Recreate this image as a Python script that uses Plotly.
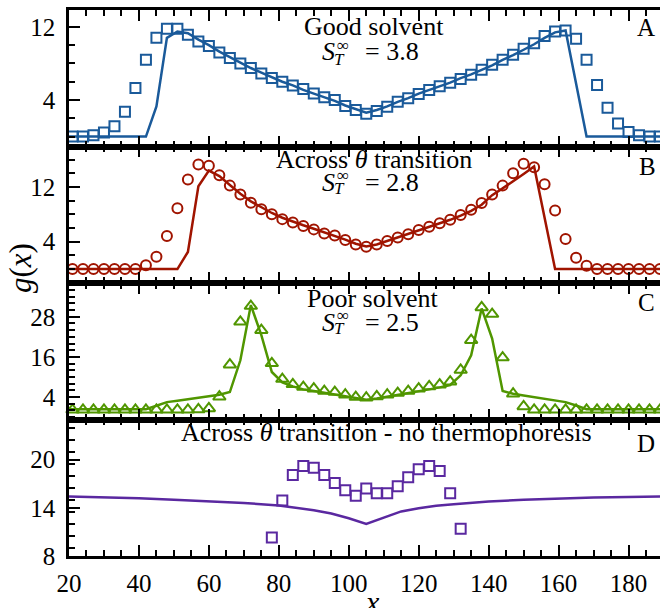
import plotly.graph_objects as go

# ---------------- data ----------------
x_pts = [21, 24, 27, 30, 33, 36, 39, 42, 45, 48, 51, 54, 57, 60, 63, 66, 69, 72, 75, 78,
         81, 84, 87, 90, 93, 96, 99, 102, 105, 108, 111, 114, 117, 120, 123, 126, 129, 132,
         135, 138, 141, 144, 147, 150, 153, 156, 159, 162, 165, 168, 171, 174, 177, 180,
         183, 186, 189]
line_x = [20, 24, 27, 30, 33, 36, 39, 42, 45, 48, 51, 54, 57, 60, 63, 66, 69, 72, 75, 78,
          81, 84, 87, 90, 93, 96, 99, 102, 105, 108, 111, 114, 117, 120, 123, 126, 129, 132,
          135, 138, 141, 144, 147, 150, 153, 156, 159, 162, 165, 168, 171, 174, 177, 180,
          183, 186, 189]

# Panel A: good solvent
a_pts = [0, 0, 0.15, 0.45, 1.14, 2.7, 5.3, 8.4, 10.8, 11.8, 11.8, 11.15, 10.4, 9.9, 9.2, 8.6,
         8.0, 7.5, 6.9, 6.4, 6.0, 5.6, 5.2, 4.7, 4.3, 4.0, 3.34, 2.9, 2.5, 2.8, 3.26, 3.8, 4.2,
         4.66, 5.1, 5.5, 5.9, 6.3, 6.75, 7.3, 7.85, 8.4, 8.95, 9.6, 10.2, 11.0, 11.5, 11.6,
         10.7, 8.4, 5.65, 3.15, 1.44, 0.5, 0.15, 0, 0]
a_line = [0, 0, 0, 0, 0, 0, 0, 0, 3.3, 10.8, 11.5, 11.3, 10.6, 10.0, 9.3, 8.7, 8.1, 7.5, 7.0,
          6.5, 6.0, 5.6, 5.1, 4.7, 4.3, 3.9, 3.4, 3.0, 2.6, 2.9, 3.3, 3.8, 4.2, 4.7, 5.1, 5.5,
          5.9, 6.4, 6.8, 7.3, 7.8, 8.4, 8.9, 9.5, 10.1, 10.8, 11.4, 11.6, 5.8, 0, 0, 0, 0, 0,
          0, 0, 0]

# Panel B: across theta transition
b_pts = [0, 0, 0, 0, 0, 0, 0, 0.57, 1.8, 4.84, 8.9, 13.1, 15.3, 15.1, 13.7, 12.2, 10.9, 9.7,
         8.76, 8.0, 7.3, 6.8, 6.3, 5.8, 5.2, 4.9, 4.25, 3.6, 3.27, 3.6, 4.1, 4.6, 5.1, 5.7,
         6.2, 6.7, 7.2, 7.9, 8.66, 9.65, 10.9, 12.2, 14.0, 15.4, 14.9, 12.4, 8.56, 4.4, 1.65,
         0.47, 0, 0, 0, 0, 0, 0, 0]
b_line = [0, 0, 0, 0, 0, 0, 0, 0, 0, 0, 0, 2.5, 12.1, 14.4, 13.6, 12.3, 11.0, 9.9, 9.0, 8.2,
          7.5, 6.9, 6.4, 5.9, 5.4, 4.9, 4.3, 3.7, 3.3, 3.6, 4.1, 4.6, 5.1, 5.6, 6.1, 6.6, 7.2,
          7.8, 8.5, 9.4, 10.8, 11.8, 12.8, 13.9, 15.0, 7.3, 0, 0, 0, 0, 0, 0, 0, 0, 0, 0, 0]

# Panel C: poor solvent
c_pts = [0.2, 0.2, 0.2, 0.2, 0.2, 0.2, 0.2, 0.2, 0.2, 0.2, 0.2, 0.2, 0.3, 0.6, 4.1, 13.7,
         26.5, 31.2, 24.0, 14.1, 9.4, 7.8, 7.0, 6.5, 5.8, 5.5, 4.7, 4.0, 3.8, 4.2, 4.7, 5.2,
         5.8, 6.5, 7.2, 7.7, 8.6, 12.1, 21.0, 30.8, 28.8, 15.8, 5.0, 1.2, 0.2, 0.2, 0.2, 0.2,
         0.2, 0.2, 0.2, 0.2, 0.2, 0.2, 0.2, 0.2, 0.2]
c_line = [0.4, 0.4, 0.4, 0.4, 0.4, 0.4, 0.4, 0.4, 1.4, 2.5, 2.9, 3.3, 3.7, 4.2, 4.7, 5.5,
          15.0, 31.5, 22.5, 11.5, 8.4, 7.2, 6.3, 5.8, 5.3, 4.8, 4.2, 3.6, 3.2, 3.6, 4.1, 4.6,
          5.1, 5.7, 6.3, 6.9, 7.6, 10.5, 16.5, 30.5, 21.5, 5.8, 5.0, 4.5, 4.0, 3.5, 3.0, 2.5,
          1.5, 0.4, 0.4, 0.4, 0.4, 0.4, 0.4, 0.4, 0.4]

# Panel D: across theta transition, no thermophoresis
d_x = [78, 81, 84, 87, 90, 93, 96, 99, 102, 105, 108, 111, 114, 117, 120, 123, 126, 129, 132]
d_pts = [10.3, 14.9, 18.1, 19.2, 19.0, 18.1, 17.1, 16.2, 15.5, 16.4, 15.8, 15.8, 16.7, 17.8,
         18.8, 19.2, 18.6, 15.8, 11.4]
d_line_x = [20, 30, 40, 50, 60, 70, 80, 85, 90, 95, 100, 105, 110, 115, 120, 125, 130, 140,
            150, 160, 170, 180, 189]
d_line = [15.4, 15.3, 15.2, 15.0, 14.8, 14.6, 14.3, 14.0, 13.7, 13.3, 12.7, 12.0, 12.8, 13.55,
          13.95, 14.25, 14.45, 14.8, 15.0, 15.15, 15.3, 15.35, 15.4]

x_ticks = [20, 40, 60, 80, 100, 120, 140, 160, 180]
panel_titles = ["Good solvent", "Across <i>θ</i> transition", "Poor solvent",
                "Across <i>θ</i> transition - no thermophoresis"]
panel_letters = ["A", "B", "C", "D"]
s_values = ["3.8", "2.8", "2.5"]

# ---------------- style ----------------
FONT = "Liberation Serif"
COLORS = ["#1a5a9a", "#a01400", "#509600", "#5a28a0"]
SYMBOLS = ["square-open", "circle-open", "triangle-up-open", "square-open"]
SIZES = [10, 10, 11, 10]
Y_RANGES = [[-1.09, 13.85], [-2.04, 17.92], [-2.7, 38.1], [8, 25]]
Y_TICKS = [[4, 12], [4, 12], [4, 16, 28], [8, 14, 20]]
Y_MINOR = [2, 2, 2, 1.5]
DOMAINS = [[0.75, 1.0], [0.5, 0.75], [0.25, 0.5], [0.0, 0.25]]

ML, MR, MT, MB = 69, 0, 10, 52
W, H = 660, 608
PW, PH = W - ML - MR, H - MT - MB

def pos(px, py):
    return dict(xref="paper", yref="paper", x=(px - ML) / PW, y=(H - MB - py) / PH)

fig = go.Figure()

pts_x = [x_pts, x_pts, x_pts, d_x]
pts_y = [a_pts, b_pts, c_pts, d_pts]
lines_x = [line_x, line_x, line_x, d_line_x]
lines_y = [a_line, b_line, c_line, d_line]

for i in range(4):
    ax = "" if i == 0 else str(i + 1)
    fig.add_trace(go.Scatter(x=lines_x[i], y=lines_y[i], mode="lines",
                             line=dict(color=COLORS[i], width=2.5),
                             xaxis="x" + ax, yaxis="y" + ax, showlegend=False,
                             cliponaxis=True))
    fig.add_trace(go.Scatter(x=pts_x[i], y=pts_y[i], mode="markers",
                             marker=dict(symbol=SYMBOLS[i], size=SIZES[i], color=COLORS[i],
                                         line=dict(width=2, color=COLORS[i])),
                             xaxis="x" + ax, yaxis="y" + ax, showlegend=False,
                             cliponaxis=False))

layout = dict(width=W, height=H, margin=dict(l=ML, r=MR, t=MT, b=MB),
              paper_bgcolor="white", plot_bgcolor="white",
              font=dict(family=FONT, size=25, color="black"), showlegend=False)

for i in range(4):
    ax = "" if i == 0 else str(i + 1)
    layout["xaxis" + ax] = dict(
        domain=[0, 1], range=[20, 189], anchor="y" + ax,
        showline=True, linewidth=2.5, linecolor="black", mirror="ticks",
        ticks="inside", ticklen=11, tickwidth=2, tickcolor="black",
        tickvals=x_ticks, showticklabels=(i == 3), ticklabelstandoff=3,
        tickfont=dict(family=FONT, size=25, color="black"),
        showgrid=False, zeroline=False, automargin=False,
        minor=dict(ticks="inside", ticklen=6, tickwidth=1.5, tickcolor="black",
                   dtick=5, tick0=0, showgrid=False),
        matches=None if i == 0 else "x")
    layout["yaxis" + ax] = dict(
        domain=DOMAINS[i], range=Y_RANGES[i], anchor="x" + ax,
        showline=True, linewidth=2.5, linecolor="black", mirror=False,
        ticks="inside", ticklen=11, tickwidth=2, tickcolor="black",
        tickvals=Y_TICKS[i], ticklabelstandoff=6,
        tickfont=dict(family=FONT, size=25, color="black"),
        showgrid=False, zeroline=False, automargin=False,
        minor=dict(ticks="inside", ticklen=6, tickwidth=1.5, tickcolor="black",
                   dtick=Y_MINOR[i], tick0=0, showgrid=False))

fig.update_layout(**layout)

ann = []
title_pos = [(374, 26), (374, 159), (373, 298), (386, 432)]
letter_pos = [(646, 27), (647, 166), (646, 302), (646, 443)]
s_cy = [52, 182, 322]
base = dict(showarrow=False, xanchor="center", yanchor="middle")
for i in range(4):
    ann.append(dict(text=panel_titles[i], font=dict(family=FONT, size=26, color="black"),
                    **pos(*title_pos[i]), **base))
    ann.append(dict(text=panel_letters[i], font=dict(family=FONT, size=25, color="black"),
                    **pos(*letter_pos[i]), **base))
for i in range(3):
    cy = s_cy[i]
    ann.append(dict(text="<i>S</i>", font=dict(family=FONT, size=26, color="black"),
                    **pos(328, cy), **base))
    ann.append(dict(text="∞", font=dict(family=FONT, size=17, color="black"),
                    **pos(343, cy - 7), **base))
    ann.append(dict(text="<i>T</i>", font=dict(family=FONT, size=17, color="black"),
                    **pos(339, cy + 7), **base))
    ann.append(dict(text="= " + s_values[i], font=dict(family=FONT, size=26, color="black"),
                    **pos(392, cy), **base))
ann.append(dict(text="<i>g</i>(<i>x</i>)", font=dict(family=FONT, size=31, color="black"),
                textangle=-90, **pos(20, 268), **base))
ann.append(dict(text="<i>x</i>", font=dict(family=FONT, size=30, color="black"),
                **pos(373, 601), **base))
fig.update_layout(annotations=ann)

fig.write_html("out.html", config={"displayModeBar": False},
               post_script="document.body.style.margin='0';document.body.style.padding='0';"
                           "document.body.style.overflow='hidden';")
